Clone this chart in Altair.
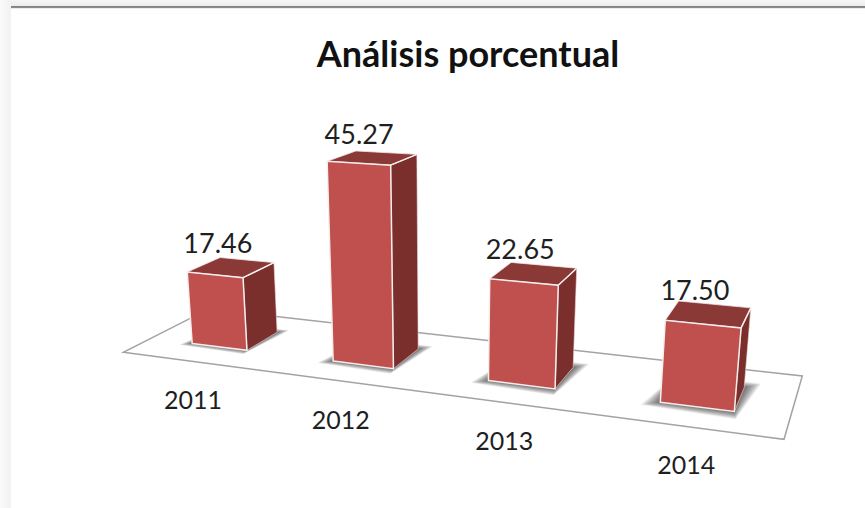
import altair as alt
import numpy as np
import pandas as pd

YEARS = ["2011", "2012", "2013", "2014"]
VALUES = [17.46, 45.27, 22.65, 17.50]
TITLE = "Análisis porcentual"

W, H = 865, 508

# Corners of the floor plate, used to calibrate the perspective camera.
P00 = np.array([123.3, 352.3])
P10 = np.array([784.0, 439.3])
P11 = np.array([802.3, 376.0])
P01 = np.array([208.9, 308.9])
VERTICAL_VP = np.array([443.0, 4000.0])
Z_PERSPECTIVE = -0.00112

BAR_U = (0.31, 0.71)
BAR_V = (0.30, 0.69)
SHADOW_SPREAD = [0.75, 0.9, 1.0, 1.1]
SHADOW_STEPS = 12


def camera():
    d1, d2 = P10 - P11, P01 - P11
    s = P00 - P10 + P11 - P01
    det = d1[0] * d2[1] - d1[1] * d2[0]
    g = (s[0] * d2[1] - s[1] * d2[0]) / det
    h = (d1[0] * s[1] - d1[1] * s[0]) / det
    return P10 * (1 + g) - P00, P01 * (1 + h) - P00, g, h


A, B, G, HH = camera()


def project(u, v, z=0.0):
    """Category position u, depth v and bar height z to canvas coordinates."""
    un = u / len(YEARS)
    w = 1 + G * un + HH * v + Z_PERSPECTIVE * z
    p = A * un + B * v + P00 + Z_PERSPECTIVE * z * VERTICAL_VP
    return p / w


def poly(rows, group, corners):
    for k, (u, v, z) in enumerate(corners):
        x, y = project(u, v, z)
        rows.append({"group": group, "vertex": k, "x": x, "y": y})


front, right, top, floor, shadow_rows = [], [], [], [], {}
ridge, labels, years = [], [], []
poly(floor, "floor", [(0, 0, 0), (4, 0, 0), (4, 1, 0), (0, 1, 0)])

for i, (year, value) in enumerate(zip(YEARS, VALUES)):
    u0, u1 = i + BAR_U[0], i + BAR_U[1]
    v0, v1 = BAR_V
    poly(front, year, [(u0, v0, 0), (u1, v0, 0), (u1, v0, value), (u0, v0, value)])
    poly(right, year, [(u1, v0, 0), (u1, v1, 0), (u1, v1, value), (u1, v0, value)])
    poly(top, year, [(u0, v0, value), (u1, v0, value), (u1, v1, value), (u0, v1, value)])
    poly(ridge, year, [(u1, v0, value), (u1, v1, value)])

    # Soft contact shadow: nested footprints, densest next to the bar.
    for step in range(SHADOW_STEPS):
        t = (SHADOW_STEPS - step) / SHADOW_STEPS * SHADOW_SPREAD[i]
        poly(shadow_rows.setdefault(step, []), year, [
            (u0 - 0.085 * t, v0 - 0.07 * t, 0),
            (u1 + 0.02 * t, v0 - 0.10 * t, 0),
            (u1 + 0.075 * t, v1 + 0.09 * t, 0),
            (u0, v1 + 0.09 * t, 0),
        ])

    cx, cy = project(i + 0.5, (v0 + v1) / 2, value)
    labels.append({"x": cx - 12, "y": cy - 22, "text": f"{value:.2f}"})
    fx, fy = project(i + 0.5, 0)
    years.append({"x": fx + 1, "y": fy + 40, "text": year})

x_enc = alt.X("x:Q", scale=alt.Scale(domain=[0, W], nice=False, zero=False), axis=None)
y_enc = alt.Y("y:Q", scale=alt.Scale(domain=[H, 0], nice=False, zero=False), axis=None)


def polygon(rows, **mark):
    return alt.Chart(pd.DataFrame(rows)).mark_line(interpolate="linear-closed", **mark).encode(
        x=x_enc, y=y_enc, detail="group:N", order="vertex:Q"
    )


def fade(stops, x2=0, y2=1):
    return alt.Gradient(
        gradient="linear", x1=0, y1=0, x2=x2, y2=y2,
        stops=[alt.GradientStop(offset=o, color=c) for o, c in stops],
    )


# Window chrome along the top and left edges.
band = alt.Chart(pd.DataFrame({"a": [0]})).mark_rect(
    fill=fade([(0, "#f6f6f6"), (1, "#ececec")])
).encode(x=alt.value(0), x2=alt.value(W), y=alt.value(0), y2=alt.value(6))
side = alt.Chart(pd.DataFrame({"a": [0]})).mark_rect(
    fill=fade([(0, "#fbfbfb"), (1, "#f1f1f1")], x2=1, y2=0)
).encode(x=alt.value(0), x2=alt.value(11), y=alt.value(0), y2=alt.value(H))
rule = alt.Chart(pd.DataFrame({"a": [0]})).mark_rect(
    fill=fade([(0, "#7d7d7d"), (0.6, "#8c8c8c"), (1, "#d8d8d8")])
).encode(x=alt.value(11), x2=alt.value(W), y=alt.value(6), y2=alt.value(8.5))

layers = [band, side, rule, polygon(floor, fill="#ffffff", stroke="#a3a3a3", strokeWidth=1.5)]
for step in sorted(shadow_rows):
    layers.append(polygon(shadow_rows[step], fill="#000000", fillOpacity=0.06, strokeWidth=0))
layers += [
    polygon(right, fill="#7a2f2d", stroke="#e9dcdc", strokeWidth=0.6),
    polygon(top, fill="#8b3937", stroke="#efe4e4", strokeWidth=0.8),
    polygon(front, fill="#c0504d", stroke="#f6eeee", strokeWidth=1.5),
    alt.Chart(pd.DataFrame(ridge)).mark_line(color="#f6eeee", strokeWidth=1.5).encode(
        x=x_enc, y=y_enc, detail="group:N", order="vertex:Q"
    ),
]

FONT = "Lato"
value_text = alt.Chart(pd.DataFrame(labels)).mark_text(
    font=FONT, fontSize=27, color="#1f1f1f", align="center", baseline="middle"
).encode(x=x_enc, y=y_enc, text="text:N")
year_text = alt.Chart(pd.DataFrame(years)).mark_text(
    font=FONT, fontSize=25, color="#1f1f1f", align="center", baseline="middle"
).encode(x=x_enc, y=y_enc, text="text:N")
title_text = alt.Chart(pd.DataFrame({"x": [468], "y": [56], "text": [TITLE]})).mark_text(
    font=FONT, fontSize=36, fontWeight="bold", color="#111111", align="center", baseline="middle"
).encode(x=x_enc, y=y_enc, text="text:N")
layers += [value_text, year_text, title_text]

chart = (
    alt.layer(*layers)
    .properties(width=W, height=H, padding=0, background="#ffffff", autosize=alt.AutoSizeParams(type="none"))
    .configure_view(stroke=None)
)
chart.save("out.html", embed_options={"renderer": "svg", "actions": False})
